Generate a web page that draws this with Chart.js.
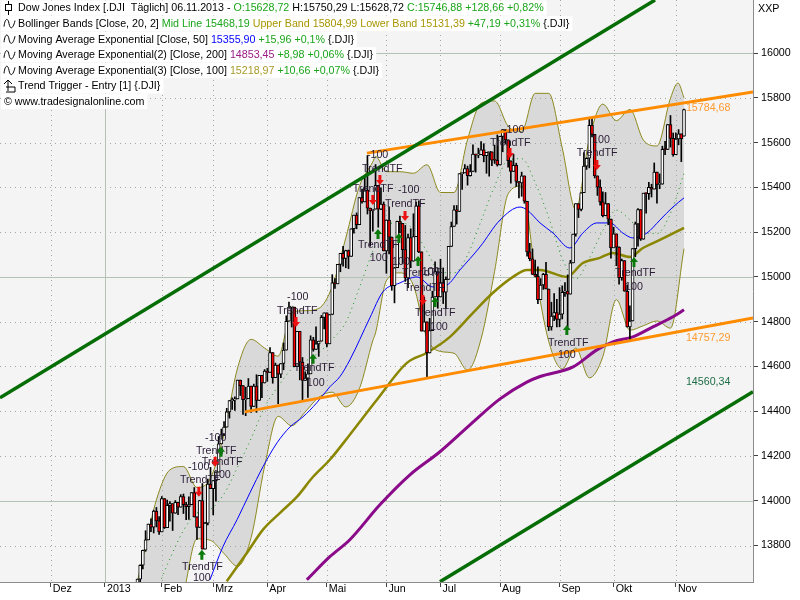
<!DOCTYPE html>
<html>
<head>
<meta charset="utf-8">
<script src="https://cdn.jsdelivr.net/npm/chart.js@4.4.1/dist/chart.umd.min.js"></script>
<style>
  html, body { margin: 0; padding: 0; background: #fff; }
  canvas { display: block; }
</style>
</head>
<body>
<canvas id="c" width="800" height="600"></canvas>
<script>
// ===== Daten (Index 0 = 02.01.2013, ein Schritt = ein Handelstag) =====
const monthTicks = [-20, 0, 21, 40, 60, 82, 104, 124, 146, 168, 188, 211];
const monthLabels = ['Dez', '2013', 'Feb', 'Mrz', 'Apr', 'Mai', 'Jun', 'Jul', 'Aug', 'Sep', 'Okt', 'Nov'];
const priceTicks = [13800, 14000, 14200, 14400, 14600, 14800, 15000, 15200, 15400, 15600, 15800, 16000];

const open = [
  13104,13412,13391,13435,13384,13329,13391,13471,13488,13507,13535,13511,13596,13650,13712,13779,13825,13896,13882,13954,13910,
  13861,14010,13880,13979,13987,13944,13993,13971,14019,13983,13973,13982,14036,13928,13881,14001,13784,13900,14075,
  14054,14090,14128,14254,14296,14329,14397,14447,14450,14455,14539,14514,14452,14456,14512,14421,14512,14448,14560,14526,
  14579,14573,14662,14550,14606,14565,14613,14673,14802,14865,14865,14599,14757,14619,14537,14548,14567,14719,14676,14701,14713,14819,
  14840,14701,14832,14974,14969,15056,15105,15083,15118,15092,15215,15276,15233,15354,15335,15388,15307,15295,15303,15409,15303,15325,
  15116,15254,15178,14961,15041,15248,15239,15122,14995,15176,15070,15180,15318,15112,14758,14799,14660,14760,14910,15024,
  14910,14975,14932,14989,15136,15225,15300,15292,15461,15464,15484,15452,15471,15549,15544,15546,15568,15542,15556,15559,15522,15521,
  15500,15628,15658,15612,15519,15471,15498,15426,15420,15451,15338,15112,15081,15011,15003,14898,14964,15011,14946,14776,14825,14841,
  14810,14834,14931,14937,14923,15063,15191,15327,15301,15376,15495,15530,15677,15637,15451,15401,15335,15273,15328,15258,
  15130,15192,15133,14996,15073,14936,14777,14803,15126,15237,15301,15168,15374,15372,15400,15392,15468,15413,15414,15570,15569,15680,15619,
  15546,15616,15639,15629
];
const high = [
  13412,13430,13447,13435,13384,13426,13492,13500,13520,13543,13535,13615,13650,13714,13780,13866,13896,13919,13958,13970,13929,
  14019,14010,14003,13996,13987,14001,13993,14027,14030,13993,14017,14036,14059,13928,14002,14077,13904,14097,14149,
  14090,14128,14287,14320,14354,14413,14448,14460,14464,14539,14539,14514,14507,14546,14512,14521,14563,14560,14560,14586,
  14592,14684,14662,14615,14606,14613,14705,14826,14888,14865,14865,14757,14757,14640,14576,14612,14737,14730,14777,14713,14828,14840,
  14840,14832,15010,14993,15056,15105,15136,15119,15120,15215,15276,15286,15354,15392,15443,15542,15307,15295,15502,15409,15398,15335,
  15255,15313,15178,15042,15249,15272,15239,15230,15191,15215,15282,15334,15340,15112,14910,14799,14815,14936,15067,15024,
  15079,15040,15000,15136,15245,15319,15319,15461,15465,15502,15495,15502,15590,15549,15575,15604,15595,15556,15559,15559,15589,15634,
  15628,15658,15658,15612,15519,15547,15508,15426,15468,15451,15338,15150,15125,15075,15045,14992,15016,15065,14946,14887,14926,14900,
  14952,14960,14975,15009,15074,15191,15327,15327,15376,15555,15532,15705,15709,15637,15451,15434,15380,15377,15328,15258,
  15222,15192,15134,15080,15073,14964,14871,15126,15245,15305,15301,15374,15374,15422,15414,15509,15468,15460,15584,15606,15681,15721,15643,
  15644,15658,15639,15750
];
const low = [
  13104,13358,13382,13345,13280,13329,13391,13449,13466,13462,13482,13511,13557,13594,13695,13774,13825,13862,13856,13883,13849,
  13861,13876,13880,13909,13867,13944,13938,13971,13943,13915,13917,13982,13927,13827,13881,13784,13784,13892,14054,
  13937,13998,14128,14254,14291,14329,14369,14408,14404,14455,14470,14386,14380,14456,14395,14421,14395,14448,14460,14526,
  14533,14573,14525,14550,14434,14550,14585,14673,14802,14776,14599,14599,14540,14444,14537,14462,14567,14668,14676,14645,14713,14768,
  14687,14701,14832,14949,14969,15023,15048,15041,15037,15092,15195,15215,15233,15329,15335,15281,15137,15204,15303,15222,15300,15116,
  15016,15103,14940,14884,15041,15196,15059,14980,14952,15041,15070,15180,15108,14758,14758,14551,14660,14760,14910,14860,
  14910,14881,14859,14989,15136,15225,15236,15292,15391,15464,15410,15450,15471,15468,15532,15546,15514,15463,15450,15497,15507,15495,
  15500,15559,15593,15490,15419,15471,15404,15353,15360,15329,15093,15072,15011,15000,14880,14898,14944,14946,14760,14762,14805,14777,
  14777,14812,14913,14777,14923,15063,15182,15265,15295,15376,15480,15487,15625,15442,15364,15320,15268,15273,15233,15084,
  15130,15050,14968,14985,14936,14776,14719,14803,15090,15137,15163,15168,15285,15346,15357,15392,15329,15394,15414,15546,15569,15580,15539,
  15546,15590,15515,15629
];
const close = [
  13412,13391,13435,13384,13329,13391,13471,13488,13507,13535,13511,13596,13650,13712,13779,13825,13896,13882,13954,13910,13861,
  14010,13880,13979,13987,13944,13993,13971,14019,13983,13973,13982,14036,13928,13881,14001,13784,13900,14075,14054,
  14090,14128,14254,14296,14329,14397,14447,14450,14455,14539,14514,14452,14456,14512,14421,14512,14448,14560,14526,14579,
  14573,14662,14550,14606,14565,14613,14673,14802,14865,14865,14599,14757,14619,14537,14548,14567,14719,14676,14701,14713,14819,14840,
  14701,14832,14974,14969,15056,15105,15083,15118,15092,15215,15276,15233,15354,15335,15388,15307,15295,15303,15409,15303,15325,15116,
  15254,15178,14961,15041,15248,15239,15122,14995,15176,15070,15180,15318,15112,14758,14799,14660,14760,14910,15024,14910,
  14975,14932,14989,15136,15225,15300,15292,15461,15464,15484,15452,15471,15549,15544,15546,15568,15542,15556,15559,15522,15521,15500,
  15628,15658,15612,15519,15471,15498,15426,15420,15451,15338,15112,15081,15011,15003,14898,14964,15011,14946,14776,14825,14841,14810,
  14834,14931,14937,14923,15063,15191,15327,15301,15376,15495,15530,15677,15637,15451,15401,15335,15273,15328,15258,15130,
  15192,15133,14996,15073,14936,14777,14803,15126,15237,15301,15168,15374,15372,15400,15392,15468,15413,15414,15570,15569,15680,15619,15546,
  15616,15639,15618,15747
];

// Bollinger Bands [20, 2]: [Index, Wert]
const bbUpper = [[12,13640],[15,13800],[19,14004],[24,14138],[29,14153],[34,14059],[39,14101],[44,14298],[49,14593],[54,14721],
  [59,14682],[64,14646],[69,14841],[74,14849],[79,14859],[84,14957],[89,15174],[94,15404],[99,15514],[100,15538],[104,15470],[109,15470],
  [114,15463],[119,15501],[124,15377],[129,15377],[134,15613],[139,15776],[144,15786],[149,15673],[154,15650],[159,15820],
  [164,15820],[169,15576],[174,15301],[179,15617],[184,15772],[189,15698],[194,15748],[199,15611],[204,15585],[209,15798],
  [211.8,15866],[214,15800]];
const bbMid = [[15,13540],[19,13603],[24,13741],[29,13867],[34,13945],[39,13962],[44,14031],[49,14150],[54,14278],[59,14418],
  [64,14511],[69,14588],[74,14623],[79,14661],[84,14721],[89,14797],[94,14952],[99,15115],[100,15144],[104,15227],[109,15244],[114,15212],
  [119,15113],[124,15022],[129,15018],[134,15098],[139,15250],[144,15406],[149,15522],[154,15528],[159,15421],[164,15266],
  [169,15082],[174,14991],[179,15083],[184,15208],[189,15298],[194,15255],[199,15196],[204,15194],[209,15284],[214,15463]];
const bbLower = [[12,13100],[15,13150],[19,13202],[24,13344],[29,13581],[34,13830],[39,13823],[44,13764],[49,13707],[54,13835],
  [59,14154],[64,14377],[69,14335],[74,14397],[79,14462],[84,14485],[89,14419],[94,14500],[99,14716],[100,14750],[104,14983],[109,15018],
  [114,14962],[119,14726],[124,14667],[129,14659],[134,14583],[139,14723],[144,15025],[149,15371],[154,15406],[159,15023],
  [164,14712],[169,14589],[174,14682],[179,14549],[184,14644],[189,14898],[194,14762],[199,14782],[204,14803],[209,14771],[214,15126]];

// Exponentielle Durchschnitte
const ema50 = [[38.8,13647],[43.6,13795],[48.8,13915],[53.6,14036],[58.4,14152],[63.6,14259],[68.4,14330],[73.2,14375],
  [78.3,14438],[83.1,14509],[86.8,14554],[90.5,14629],[97.9,14817],[102.7,14933],[109,14973],[115.3,15000],[121.2,14955],
  [126.4,14964],[131.2,15031],[138.6,15134],[146,15254],[153.4,15312],[156,15299],[160.8,15241],[165.6,15196],[171.8,15129],
  [176.6,15196],[181.8,15241],[186.6,15241],[191.4,15196],[195.1,15174],[200.3,15196],[205.1,15254],[209.9,15312],[214,15353]];
const ema100 = [[45,13640],[52.5,13768],[58.4,13871],[64.7,13946],[71,14018],[76.9,14107],[83.1,14183],[90.5,14295],
  [100.5,14451],[111.6,14616],[119,14661],[127.5,14732],[136,14839],[143.4,14929],[150.8,15000],[156,15031],[160.8,15031],
  [170.7,15000],[176.6,15062],[182.9,15085],[187.7,15107],[194,15089],[198.8,15129],[205.1,15165],[214,15219]];
const ema200 = [[74.6,13647],[83.1,13750],[90.5,13826],[101.6,13982],[112.7,14116],[123.8,14219],[134.9,14339],[146,14455],
  [155.9,14530],[160.8,14555],[173,14598],[181.8,14674],[187.7,14710],[195.1,14732],[202.5,14777],[209.9,14822],[214,14853]];

// Trendlinien
const trendOrangeHigh = [[96.8,15553],[239.5,15826]];
const trendOrangeLow = [[51.7,14397],[239.5,14817]];
const trendGreenHigh = [[-38.8,14460],[203.3,16237]];
const trendGreenLow = [[123.8,13638],[239.5,14487]];
const levelLabels = [[214.7,15784,'15784,68','#ff9a30'],[214.7,14757,'14757,29','#ff9a30'],[214.7,14560,'14560,34','#1e6e46']];

// Trend Trigger Markierungen
const triggerTexts = [
  ['-100',37.0,14281],['TrendTF',33.6,14223],['TrendTF',35.8,14174],['-100',30.7,14152],['TrendTF',27.7,14094],['100',39.9,14116],
  ['TrendTF',28.5,13705],['100',32.5,13656],['-100',67.3,14911],['TrendTF',63.6,14848],['TrendTF',69.8,14594],['100',74.6,14527],
  ['-100',96.8,15545],['TrendTF',95.0,15482],['TrendTF',91.6,15393],['-100',108.3,15388],['TrendTF',103.5,15326],
  ['TrendTF',93.5,15143],['100',97.9,15085],['100',106.1,15067],['TrendTF',109.8,15018],['100',117.1,15022],
  ['TrendTF',110.5,14951],['TrendTF',114.6,14839],['100',120.1,14777],['-100',147.1,15656],['TrendTF',142.3,15598],
  ['100',180.0,15612],['TrendTF',174.4,15554],['TrendTF',188.5,15018],['100',192.2,14955],['TrendTF',163.7,14705],['100',167.4,14652]
];
const arrowsUp = [[42.9,14219],[35.8,13759],[76.9,14634],[100.9,15192],[108.6,15174],[115.7,15071],[122.0,14888],[195.5,15067],[170.7,14763]];
const arrowsDown = [[34.7,14040],[40.7,14174],[70.6,14799],[101.6,15433],[99.0,15344],[110.9,15272],[117.5,14897],[149.7,15554],[181.8,15500]];

const legendLines = [
  [['Dow Jones Index [.DJI  Täglich] 06.11.2013 - ','#000'],['O:15628,72','#1aa51a'],[' H:15750,29 L:15628,72 ','#000'],['C:15746,88 +128,66 +0,82%','#1aa51a']],
  [['Bollinger Bands [Close, 20, 2] ','#000'],['Mid Line 15468,19','#1aa51a'],[' Upper Band 15804,99 Lower Band 15131,39','#a89600'],[' +47,19 +0,31%','#1aa51a'],[' {.DJI}','#000']],
  [['Moving Average Exponential [Close, 50] ','#000'],['15355,90','#0000ff'],[' +15,96 +0,1%','#1aa51a'],[' {.DJI}','#000']],
  [['Moving Average Exponential(2) [Close, 200] ','#000'],['14853,45','#9c1c86'],[' +8,98 +0,06%','#1aa51a'],[' {.DJI}','#000']],
  [['Moving Average Exponential(3) [Close, 100] ','#000'],['15218,97','#a89a28'],[' +10,66 +0,07%','#1aa51a'],[' {.DJI}','#000']],
  [['Trend Trigger - Entry [1] {.DJI}','#000']],
  [['© www.tradesignalonline.com','#000']]
];

// ===== Darstellung =====
const FONT = '"Liberation Sans", Arial, sans-serif';
const FS = 10.7;
Chart.defaults.font.family = FONT;
Chart.defaults.font.size = FS;
Chart.defaults.color = '#000';

const toXY = arr => arr.map(p => ({ x: p[0], y: p[1] }));

function lineSet(data, color, width, order, extra) {
  return Object.assign({
    type: 'line', data: toXY(data), borderColor: color, borderWidth: width,
    pointRadius: 0, fill: false, cubicInterpolationMode: 'monotone', order
  }, extra || {});
}

function drawArrow(ctx, px, py, up, color) {
  const s = up ? 1 : -1;
  ctx.fillStyle = color;
  ctx.beginPath();
  ctx.moveTo(px, py - 5 * s);
  ctx.lineTo(px + 4, py);
  ctx.lineTo(px + 1.5, py);
  ctx.lineTo(px + 1.5, py + 5 * s);
  ctx.lineTo(px - 1.5, py + 5 * s);
  ctx.lineTo(px - 1.5, py);
  ctx.lineTo(px - 4, py);
  ctx.closePath();
  ctx.fill();
}

// keine automatischen Ränder der Achsen, Plotfläche beginnt oben links bei 0/0
function noPadding(s) {
  s.paddingTop = 0; s.paddingBottom = 0; s.paddingLeft = 0; s.paddingRight = 0;
}

const rasterPlugin = {
  id: 'raster',
  beforeDraw(chart) {
    const { ctx, chartArea: a } = chart;
    ctx.save();
    ctx.fillStyle = '#ffffff';
    ctx.fillRect(0, 0, chart.width, chart.height);
    ctx.fillStyle = '#f4f4f4';
    ctx.fillRect(a.left, a.top, a.right - a.left, a.bottom - a.top);
    ctx.restore();
  },
  // läuft nach dem Filler, also liegt das Raster über der Bandfläche
  beforeDatasetsDraw(chart) {
    const { ctx, chartArea: a, scales: { x, y } } = chart;
    ctx.save();
    ctx.lineWidth = 1;
    priceTicks.forEach(v => {
      const py = Math.round(y.getPixelForValue(v)) + 0.5;
      const major = v % 1000 === 0;
      ctx.strokeStyle = major ? '#b4c2b4' : '#a4a4a4';
      ctx.setLineDash(major ? [] : [1, 4]);
      ctx.beginPath(); ctx.moveTo(a.left, py); ctx.lineTo(a.right, py); ctx.stroke();
    });
    monthTicks.forEach((v, i) => {
      const px = Math.round(x.getPixelForValue(v)) + 0.5;
      const major = monthLabels[i] === '2013';
      ctx.strokeStyle = major ? '#b4c2b4' : '#a4a4a4';
      ctx.setLineDash(major ? [] : [1, 4]);
      ctx.beginPath(); ctx.moveTo(px, a.top); ctx.lineTo(px, a.bottom); ctx.stroke();
    });
    ctx.restore();
  }
};

const overlayPlugin = {
  id: 'overlay',
  afterDatasetsDraw(chart) {
    const { ctx, scales: { x, y } } = chart;
    ctx.save();
    ctx.font = FS + 'px ' + FONT;
    ctx.textAlign = 'left';
    ctx.textBaseline = 'middle';
    ctx.fillStyle = '#2a1c36';
    triggerTexts.forEach(t => ctx.fillText(t[0], x.getPixelForValue(t[1]), y.getPixelForValue(t[2])));
    arrowsUp.forEach(p => drawArrow(ctx, x.getPixelForValue(p[0]), y.getPixelForValue(p[1]), true, '#0a7a0a'));
    arrowsDown.forEach(p => drawArrow(ctx, x.getPixelForValue(p[0]), y.getPixelForValue(p[1]), false, '#ee1111'));
    ctx.textBaseline = 'top';
    levelLabels.forEach(l => {
      ctx.fillStyle = l[3];
      ctx.fillText(l[2], x.getPixelForValue(l[0]), y.getPixelForValue(l[1]) + 1);
    });
    ctx.restore();
  },
  afterDraw(chart) {
    const { ctx, chartArea: a } = chart;
    ctx.save();
    ctx.font = FS + 'px ' + FONT;
    ctx.textBaseline = 'middle';
    ctx.textAlign = 'left';
    legendLines.forEach((parts, i) => {
      const cy = 8 + i * 15.6;
      const tx = i === 6 ? 4 : 18;
      const w = parts.reduce((s, p) => s + ctx.measureText(p[0]).width, 0);
      ctx.fillStyle = '#ffffff';
      ctx.fillRect(1, cy - 7.5, tx + w + 2, 15);
      let px = tx;
      parts.forEach(p => { ctx.fillStyle = p[1]; ctx.fillText(p[0], px, cy + 0.5); px += ctx.measureText(p[0]).width; });
      // Symbole vor den Zeilen
      ctx.strokeStyle = '#000';
      ctx.lineWidth = 1;
      if (i === 0) {
        ctx.beginPath(); ctx.moveTo(8.5, cy - 7); ctx.lineTo(8.5, cy + 7); ctx.stroke();
        ctx.fillStyle = '#fff';
        ctx.fillRect(5.5, cy - 3.5, 6, 6); ctx.strokeRect(5.5, cy - 3.5, 6, 6);
      } else if (i >= 1 && i <= 4) {
        ctx.beginPath();
        ctx.moveTo(4, cy + 3);
        ctx.bezierCurveTo(5, cy - 6, 8, cy - 6, 9, cy);
        ctx.bezierCurveTo(10, cy + 6, 13, cy + 6, 15, cy - 3);
        ctx.stroke();
      } else if (i === 5) {
        ctx.beginPath();
        ctx.moveTo(4, cy - 2); ctx.lineTo(8, cy - 6); ctx.lineTo(12, cy - 2);
        ctx.moveTo(8, cy - 6); ctx.lineTo(8, cy + 5);
        ctx.moveTo(6, cy + 1); ctx.lineTo(15, cy + 1); ctx.lineTo(15, cy + 6); ctx.lineTo(6, cy + 6);
        ctx.stroke();
      }
    });
    ctx.fillStyle = '#000';
    ctx.textBaseline = 'middle';
    ctx.fillText('XXP', a.right + 5, 9);
    ctx.restore();
  }
};

const bodies = close.map((c, i) => ({ x: i, y: [open[i], c] }));
const wicks = close.map((c, i) => ({ x: i, y: [low[i], high[i]] }));

new Chart(document.getElementById('c'), {
  type: 'bar',
  data: {
    datasets: [
      lineSet(bbUpper, '#8c8a1e', 1, 40, { fill: '+1', backgroundColor: '#d9d9d9' }),
      lineSet(bbLower, '#8c8a1e', 1, 39),
      lineSet(bbMid, '#11961a', 1, 38, { borderDash: [1, 4] }),
      lineSet(ema200, '#8a0a8a', 3, 37),
      lineSet(ema100, '#8a8600', 2.5, 36),
      lineSet(ema50, '#0000ff', 1, 35),
      {
        type: 'bar', data: wicks, backgroundColor: '#000', borderWidth: 0,
        barThickness: 1, grouped: false, order: 21
      },
      {
        type: 'bar', data: bodies, grouped: false, order: 20,
        barThickness: 3, borderWidth: 1, borderColor: '#000', borderSkipped: false, minBarLength: 1,
        backgroundColor: ctx => close[ctx.dataIndex] < open[ctx.dataIndex] ? '#ff0000' : '#ffffff'
      },
      lineSet(trendOrangeLow, '#ff8c00', 3, 5, { cubicInterpolationMode: 'default', tension: 0 }),
      lineSet(trendOrangeHigh, '#ff8c00', 3, 5, { cubicInterpolationMode: 'default', tension: 0 }),
      lineSet(trendGreenHigh, '#056d05', 3.5, 4, { cubicInterpolationMode: 'default', tension: 0 }),
      lineSet(trendGreenLow, '#056d05', 3.5, 4, { cubicInterpolationMode: 'default', tension: 0 })
    ]
  },
  options: {
    responsive: false,
    animation: false,
    events: [],
    layout: { padding: 0 },
    plugins: {
      legend: { display: false },
      tooltip: { enabled: false },
      filler: { drawTime: 'beforeDatasetsDraw' }
    },
    scales: {
      x: {
        type: 'linear', min: -38.8, max: 239.5, offset: false,
        afterBuildTicks: s => { s.ticks = monthTicks.map(v => ({ value: v })); },
        afterFit: s => { s.height = 18; noPadding(s); },
        grid: { drawOnChartArea: false, drawTicks: true, tickLength: 5, tickColor: '#404040', offset: false },
        border: { color: '#8c8c8c' },
        ticks: {
          autoSkip: false, maxRotation: 0, minRotation: 0, align: 'start', padding: -4, labelOffset: 2,
          callback: v => monthLabels[monthTicks.indexOf(v)]
        }
      },
      y: {
        position: 'right', min: 13637, max: 16237,
        afterBuildTicks: s => { s.ticks = priceTicks.map(v => ({ value: v })); },
        afterFit: s => { s.width = 47; noPadding(s); },
        grid: { drawOnChartArea: false, drawTicks: true, tickLength: 5, tickColor: '#404040' },
        border: { color: '#8c8c8c' },
        ticks: { padding: 3, callback: v => String(v) }
      }
    }
  },
  plugins: [rasterPlugin, overlayPlugin]
});
</script>
</body>
</html>
